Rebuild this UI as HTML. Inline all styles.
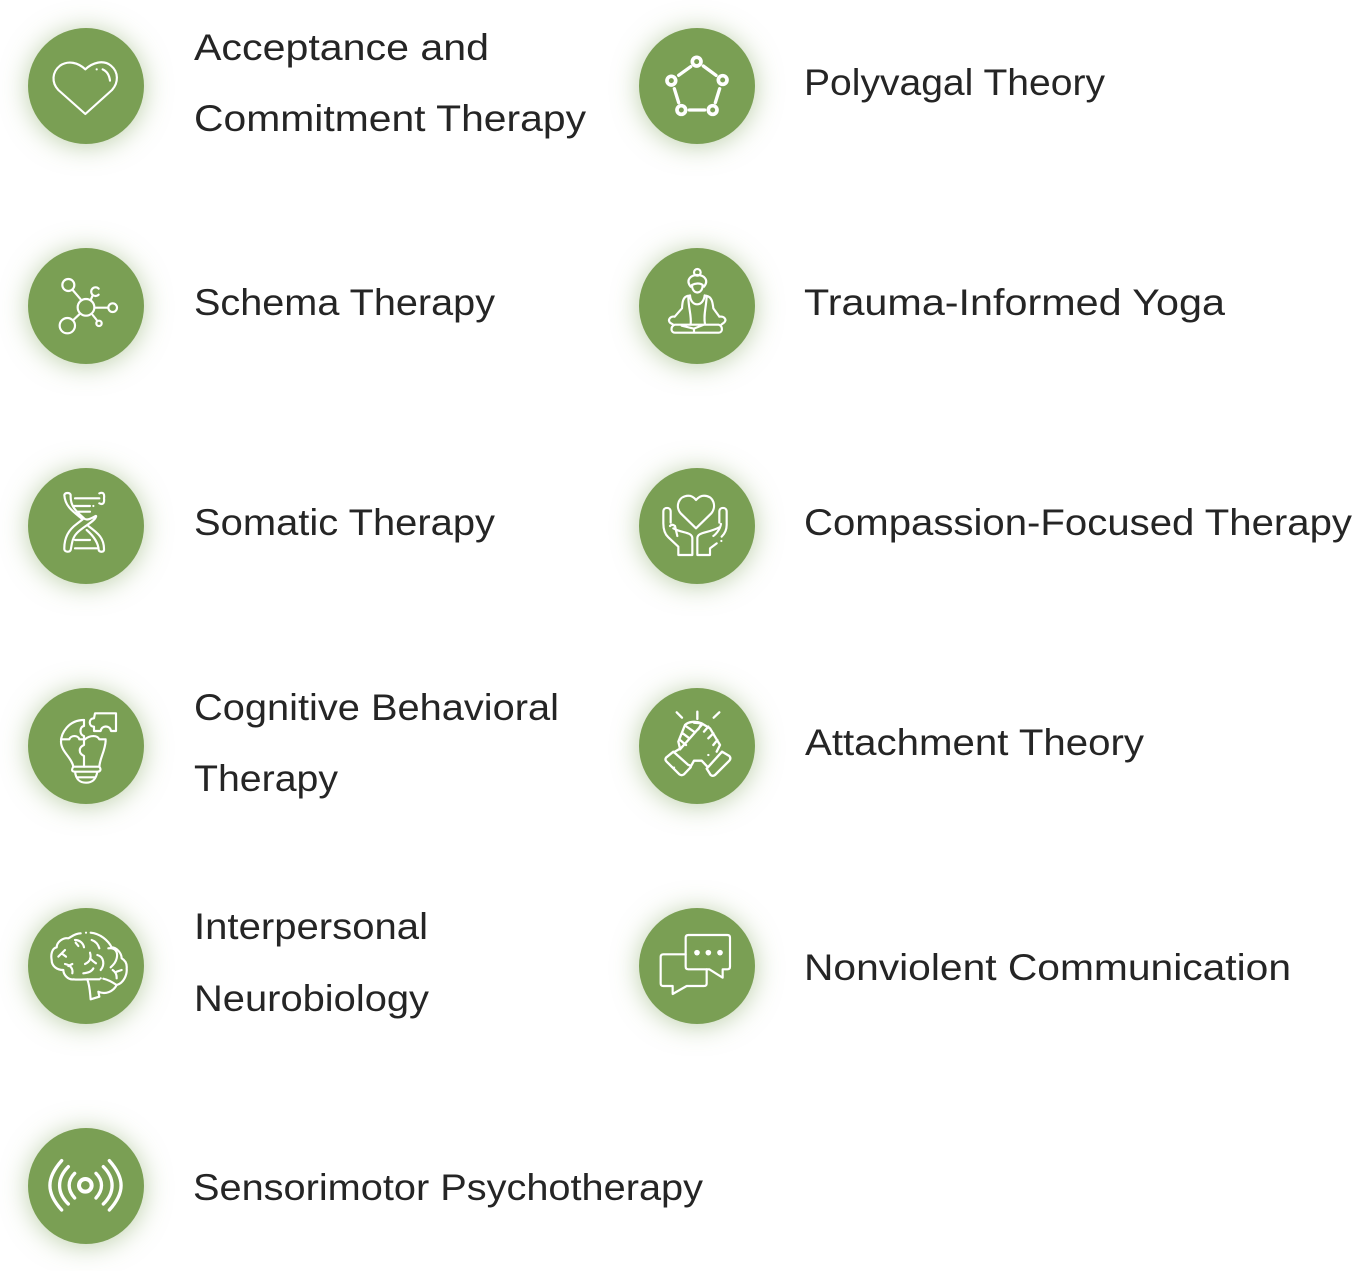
<!DOCTYPE html>
<html><head><meta charset="utf-8"><style>
html,body{margin:0;padding:0;background:#fff}
body{width:1353px;height:1271px;overflow:hidden;position:relative}
.c{position:absolute;width:116px;height:116px;border-radius:50%;background:#7a9f54;box-shadow:0 2px 26px rgba(122,159,84,.5)}
svg{position:absolute;overflow:visible}
.i{width:160px;height:160px;fill:none;stroke:#fff;stroke-width:6.5;stroke-linecap:round;stroke-linejoin:round}
text{font-family:"Liberation Sans",sans-serif;font-size:37px;fill:#252525;stroke:none}
</style></head><body>
<div class="c" style="left:28px;top:28px"></div><div class="c" style="left:638.5px;top:28px"></div>
<div class="c" style="left:28px;top:248px"></div><div class="c" style="left:638.5px;top:248px"></div>
<div class="c" style="left:28px;top:468px"></div><div class="c" style="left:638.5px;top:468px"></div>
<div class="c" style="left:28px;top:688px"></div><div class="c" style="left:638.5px;top:688px"></div>
<div class="c" style="left:28px;top:908px"></div><div class="c" style="left:638.5px;top:908px"></div>
<div class="c" style="left:27.5px;top:1128px"></div>

<svg class="i" style="left:10px;top:10px" viewBox="0 0 480 480"><path d="M226 312L145 240C124 218 126 186 150 167C175 150 205 158 226 178C247 158 280 148 303 167C326 186 326 218 306 240Z"/><path d="M278 178C292 184 298 196 300 212M260 178h.1"/></svg>

<svg class="i" style="left:620px;top:10px;stroke-width:10" viewBox="0 0 480 480"><g stroke-width="11"><circle cx="230" cy="155" r="13"/><circle cx="308" cy="210" r="13"/><circle cx="278" cy="300" r="13"/><circle cx="184" cy="300" r="13"/><circle cx="154" cy="212" r="13"/></g><path d="M176 196L212 170M250 168L288 196M299 236L286 278M208 300H254M163 236L176 278"/></svg>

<svg class="i" style="left:10px;top:230px" viewBox="0 0 480 480"><circle cx="175" cy="165" r="18"/><circle cx="172" cy="287" r="23"/><circle cx="308" cy="233" r="13"/><circle cx="267" cy="280" r="8"/><circle cx="228" cy="232" r="25"/><path d="M266 176A13 13 0 1 0 266 194M188 180L212 208M190 270L208 253M254 233H295M248 255L260 270M243 208L248 196"/></svg>

<svg class="i" style="left:620px;top:230px" viewBox="0 0 480 480"><circle cx="232" cy="127" r="10"/><path d="M212 170C196 150 212 135 232 135C252 135 268 150 252 170M216 165C216 195 248 195 248 165C240 158 225 160 216 165M205 197C188 200 187 218 186 235L164 260M258 197C276 200 278 218 280 235L298 260M210 196C212 232 250 232 254 196M205 200C205 235 215 255 212 283M260 200C258 235 250 255 255 283M164 260C152 258 142 268 150 278L160 284M298 260C312 258 322 268 312 278L304 284M165 284H296C310 290 308 308 296 308H165C152 308 150 290 165 284ZM185 287L222 296V308M222 296L252 284"/></svg>

<svg class="i" style="left:10px;top:450px" viewBox="0 0 480 480"><path d="M163 135C165 127 180 127 182 135C180 170 200 185 222 205C235 218 262 190 258 200C254 215 215 232 200 250C185 265 185 290 182 300C178 308 165 306 163 298C162 265 175 240 200 222L218 208C190 185 165 170 163 135ZM195 145H268M268 130C280 125 284 132 282 145C284 160 278 165 268 160M240 168H190M250 168h.1M200 185H240M235 228C265 250 283 265 282 300C280 308 268 306 266 300C265 280 255 262 230 240M195 270H240M195 295H260"/></svg>

<svg class="i" style="left:620px;top:450px" viewBox="0 0 480 480"><path d="M228 235L182 190C165 170 175 138 205 137C215 137 222 142 228 150C235 142 242 137 252 137C282 138 290 170 274 190Z"/><path d="M217 315H175V290L145 262C132 250 130 235 130 220V185C130 170 152 170 152 185V218M150 228C155 222 160 224 165 228L172 258M160 235C185 250 217 245 217 265V315M232 315V265C232 245 265 250 298 232M303 222C300 240 285 255 280 258M298 218V185C298 170 320 170 320 185V225C320 240 315 250 305 260M232 315H270V295L290 280M304 273h.1"/></svg>

<svg class="i" style="left:10px;top:670px" viewBox="0 0 480 480"><path d="M222 150C175 150 153 190 153 215C153 245 185 262 190 290H268C270 262 285 245 287 212"/><path d="M153 208H178C182 195 205 195 208 208H225C240 195 262 195 268 208H287M222 150V168C208 170 208 195 222 198V225C205 232 205 250 222 258V290M190 290C182 302 188 305 195 305H262C270 305 275 300 268 290M195 305C198 330 210 338 228 338C246 338 258 330 262 305M200 322H256"/><path d="M255 130H318V183H303C300 165 275 165 272 183H252V170C235 170 235 145 252 145Z"/></svg>

<svg class="i" style="left:620px;top:670px;stroke-width:7" viewBox="0 0 480 480"><path d="M170 127L186 143M232 125V147M298 127L281 143"/><path d="M160 245L138 263Q134 270 140 275L178 313Q185 318 192 313L212 292Q212 285 205 285L160 245ZM306 245L328 258Q334 265 328 272L285 315Q278 320 272 315L260 296Z"/><path d="M165 245L180 236L175 215L195 165C205 155 225 152 245 160L270 175L300 225L290 245M212 290L222 272H245L262 290M245 165L180 238M222 158L245 160L235 178M180 210L198 225M188 190L208 205M200 170L222 185M252 185L265 170M265 205L280 190M280 225L292 210M265 255h.1M162 293h.1"/></svg>

<svg class="i" style="left:10px;top:890px" viewBox="0 0 480 480"><path d="M212 130C195 130 185 140 175 145C160 142 140 155 140 172C125 175 122 195 125 210C125 228 140 240 160 240C160 255 175 270 190 268C205 270 222 268 232 268C240 290 240 310 242 328L268 320L265 305C285 315 310 305 320 285C340 280 352 255 350 235C352 215 340 208 335 205C335 190 320 172 305 172C295 152 270 130 242 128"/><path d="M195 150C210 150 220 160 222 172M205 168L197 158M145 200L165 180M155 190L168 200M165 222C180 225 190 235 187 250M175 228L187 222M240 188C245 205 240 215 225 222M240 205C250 215 255 218 258 220M220 250C235 248 245 245 250 235M245 150C260 155 265 165 268 175M262 195C282 200 285 225 272 240M295 175C315 172 325 185 320 205C318 215 310 225 302 232M308 240C315 245 320 250 320 265M320 245L335 240M232 268H268M280 266C290 268 305 275 320 285M228 128h.1M272 265h.1"/></svg>

<svg class="i" style="left:620px;top:890px" viewBox="0 0 480 480"><path d="M205 135H322Q330 135 330 143V230Q330 238 322 238H308V263L268 238H205Q197 238 197 230V143Q197 135 205 135Z"/><path d="M197 193H130Q122 193 122 201V280Q122 288 130 288H158V312L200 288H252Q260 288 260 280V238"/><g fill="#fff" stroke="none"><circle cx="231" cy="188" r="8.5"/><circle cx="265" cy="188" r="8.5"/><circle cx="300" cy="188" r="8.5"/></g></svg>

<svg class="i" style="left:10px;top:1110px;stroke-width:10" viewBox="0 0 480 480"><circle cx="226" cy="226" r="19" stroke-width="12"/><path d="M194 190C172 212 172 240 194 264M175 170C140 205 140 248 175 282M155 152C108 205 108 248 155 300M258 190C280 212 280 240 258 264M280 170C315 205 315 248 280 282M298 152C345 205 345 248 298 300"/></svg>

<svg style="left:0;top:0" width="1353" height="1271" viewBox="0 0 1353 1271">
<text x="194" y="60" textLength="295" lengthAdjust="spacingAndGlyphs">Acceptance and</text>
<text x="194" y="131" textLength="392" lengthAdjust="spacingAndGlyphs">Commitment Therapy</text>
<text x="804" y="95" textLength="301" lengthAdjust="spacingAndGlyphs">Polyvagal Theory</text>
<text x="194" y="315" textLength="301" lengthAdjust="spacingAndGlyphs">Schema Therapy</text>
<text x="804" y="315" textLength="421" lengthAdjust="spacingAndGlyphs">Trauma-Informed Yoga</text>
<text x="194" y="535" textLength="301" lengthAdjust="spacingAndGlyphs">Somatic Therapy</text>
<text x="804" y="535" textLength="548" lengthAdjust="spacingAndGlyphs">Compassion-Focused Therapy</text>
<text x="194" y="720" textLength="365" lengthAdjust="spacingAndGlyphs">Cognitive Behavioral</text>
<text x="194" y="791" textLength="144" lengthAdjust="spacingAndGlyphs">Therapy</text>
<text x="805" y="755" textLength="339" lengthAdjust="spacingAndGlyphs">Attachment Theory</text>
<text x="194" y="939" textLength="234" lengthAdjust="spacingAndGlyphs">Interpersonal</text>
<text x="194" y="1011" textLength="235" lengthAdjust="spacingAndGlyphs">Neurobiology</text>
<text x="804" y="980" textLength="487" lengthAdjust="spacingAndGlyphs">Nonviolent Communication</text>
<text x="193" y="1200" textLength="510" lengthAdjust="spacingAndGlyphs">Sensorimotor Psychotherapy</text>
</svg>
</body></html>
